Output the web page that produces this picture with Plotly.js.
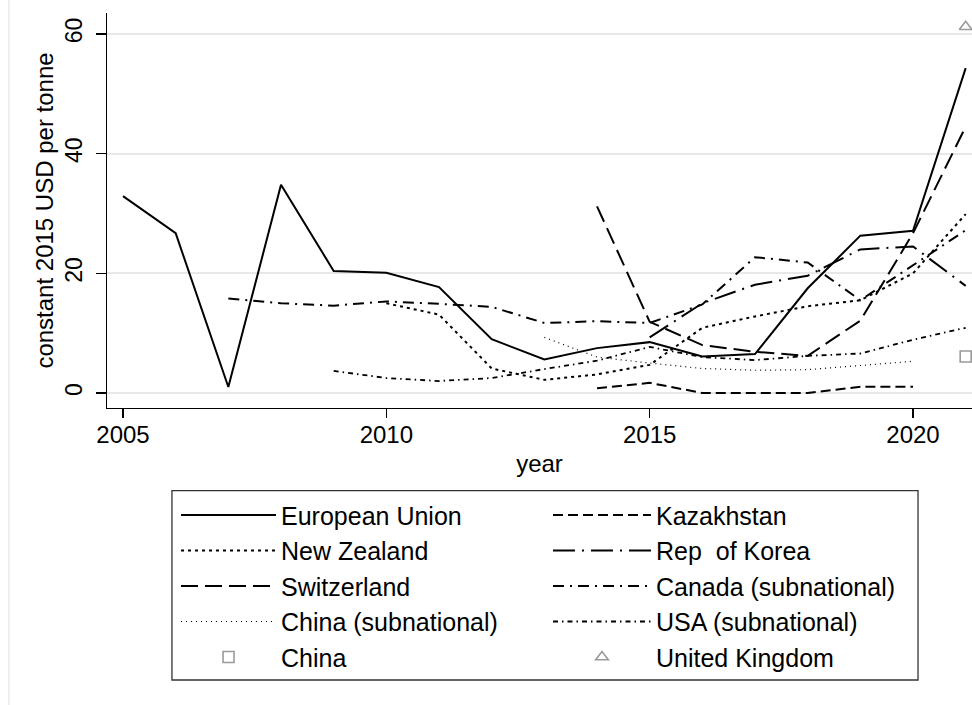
<!DOCTYPE html>
<html><head><meta charset="utf-8">
<script src="https://cdn.plot.ly/plotly-3.0.1.min.js"></script>
<style>html,body{margin:0;padding:0;background:#fff}</style>
</head><body><div id="chart" style="width:972px;height:705px"></div>
<script>
// ---- data (constant 2015 USD per tonne) ----
const yearsEU = [2005,2006,2007,2008,2009,2010,2011,2012,2013,2014,2015,2016,2017,2018,2019,2020,2021];
const valEU   = [32.9,26.7,1.0,34.8,20.4,20.1,17.7,9.0,5.6,7.5,8.5,6.1,6.5,17.5,26.3,27.1,54.3];

const yearsKAZ = [2014,2015,2016,2017,2018,2019,2020];
const valKAZ   = [0.8,1.7,0.0,0.0,0.0,1.05,1.05];

const yearsNZ = [2010,2011,2012,2013,2014,2015,2016,2017,2018,2019,2020,2021];
const valNZ   = [15.0,13.1,4.1,2.2,3.1,4.7,10.9,12.8,14.5,15.5,20.0,29.9];

const yearsKOR = [2015,2016,2017,2018,2019,2020,2021];
const valKOR   = [9.3,15.0,18.1,19.6,24.0,24.5,17.9];

const yearsCHE = [2014,2015,2016,2017,2018,2019,2020,2021];
const valCHE   = [31.2,11.9,8.0,6.9,6.2,12.1,26.7,44.5];

const yearsCAN = [2007,2008,2009,2010,2011,2012,2013,2014,2015,2016,2017,2018,2019,2020,2021];
const valCAN   = [15.8,15.0,14.6,15.3,14.9,14.4,11.7,12.0,11.7,14.8,22.7,21.8,15.5,21.3,27.2];

const yearsCHNsub = [2013,2014,2015,2016,2017,2018,2019,2020];
const valCHNsub   = [9.3,6.0,5.0,4.1,3.8,3.9,4.6,5.3];

const yearsUSA = [2009,2010,2011,2012,2013,2014,2015,2016,2017,2018,2019,2020,2021];
const valUSA   = [3.7,2.5,2.0,2.5,4.0,5.4,7.7,6.0,5.5,6.2,6.6,8.9,10.9];

const yearsCHN = [2021];
const valCHN   = [6.1];

const yearsUK = [2021];
const valUK   = [61.2];

const xTicks = [2005,2010,2015,2020];
const yTicks = [0,20,40,60];

// ---- style ----
const FONT = 'Liberation Sans, Arial, Helvetica, sans-serif';
function lineTrace(name, x, y, dash, width, leg){
  return {type:'scatter', mode:'lines', name:name, x:x, y:y,
    line:{color:'#000', width:width, dash:dash},
    legend:leg, hoverinfo:'skip'};
}
function markTrace(name, x, y, symbol, leg){
  return {type:'scatter', mode:'markers', name:name, x:x, y:y,
    marker:{symbol:symbol, size:11, color:'#9a9a9a', line:{color:'#9a9a9a', width:1.6}},
    legend:leg, hoverinfo:'skip', cliponaxis:false};
}

const traces = [
  lineTrace('European Union', yearsEU, valEU, 'solid', 2, 'legend'),
  lineTrace('New Zealand', yearsNZ, valNZ, '3px,4px', 2, 'legend'),
  lineTrace('Switzerland', yearsCHE, valCHE, '17px,7px', 2, 'legend'),
  lineTrace('China (subnational)', yearsCHNsub, valCHNsub, '1px,4px', 1.2, 'legend'),
  markTrace('China', yearsCHN, valCHN, 'square-open', 'legend'),
  lineTrace('Kazakhstan', yearsKAZ, valKAZ, '10px,5px', 2, 'legend2'),
  lineTrace('Rep  of Korea', yearsKOR, valKOR, '22px,7px,2px,7px', 2, 'legend2'),
  lineTrace('Canada (subnational)', yearsCAN, valCAN, '11px,6px,2px,6px', 2, 'legend2'),
  lineTrace('USA (subnational)', yearsUSA, valUSA, '5px,4px,1.5px,4px', 1.8, 'legend2'),
  markTrace('United Kingdom', yearsUK, valUK, 'triangle-up-open', 'legend2')
];

const legendCommon = {
  orientation:'v', yanchor:'top', xanchor:'left',
  font:{family:FONT, size:25, color:'#000'},
  bgcolor:'rgba(0,0,0,0)', borderwidth:0,
  itemclick:false, itemdoubleclick:false
};

const layout = {
  width:972, height:705,
  margin:{l:107, r:0, t:13, b:297, pad:0},
  paper_bgcolor:'#fff', plot_bgcolor:'#fff',
  font:{family:FONT, color:'#000'},
  showlegend:true,
  xaxis:{
    range:[2004.696, 2021.12], tickvals:xTicks, ticktext:xTicks.map(String),
    showgrid:false, zeroline:false, showline:true, linecolor:'#000', linewidth:1.3,
    ticks:'outside', ticklen:9, tickwidth:1.3, tickcolor:'#000', ticklabelstandoff:-4,
    tickfont:{family:FONT, size:24, color:'#000'},
    title:{text:'year', font:{family:FONT, size:24, color:'#000'}, standoff:8},
    automargin:false
  },
  yaxis:{
    range:[-2.507, 63.51], tickvals:yTicks, ticktext:yTicks.map(String),
    showgrid:true, gridcolor:'#e8e8e8', gridwidth:2, zeroline:false,
    showline:true, linecolor:'#000', linewidth:1.3,
    ticks:'outside', ticklen:10, tickwidth:1.3, tickcolor:'#000', tickangle:-90,
    ticklabelstandoff:5,
    tickfont:{family:FONT, size:23, color:'#000'},
    title:{text:'constant 2015 USD per tonne\u00a0\u00a0', font:{family:FONT, size:24, color:'#000'}, standoff:0},
    automargin:false
  },
  legend: Object.assign({}, legendCommon, {x:0.0798, y:-0.2133, itemwidth:95}),
  legend2: Object.assign({}, legendCommon, {x:0.5098, y:-0.2133, itemwidth:98}),
  shapes:[
    {type:'rect', xref:'paper', yref:'paper', x0:0.0751, x1:0.9376, y0:-0.6886, y1:-0.2094,
     line:{color:'#333', width:1.3}, fillcolor:'rgba(0,0,0,0)', layer:'above'},
    {type:'line', xref:'paper', yref:'paper', x0:-0.1133, x1:-0.1133, y0:-0.76, y1:1.033,
     line:{color:'#e6e6e6', width:1.3}}
  ]
};

Plotly.newPlot('chart', traces, layout, {displayModeBar:false, staticPlot:true});
</script>
</body></html>
